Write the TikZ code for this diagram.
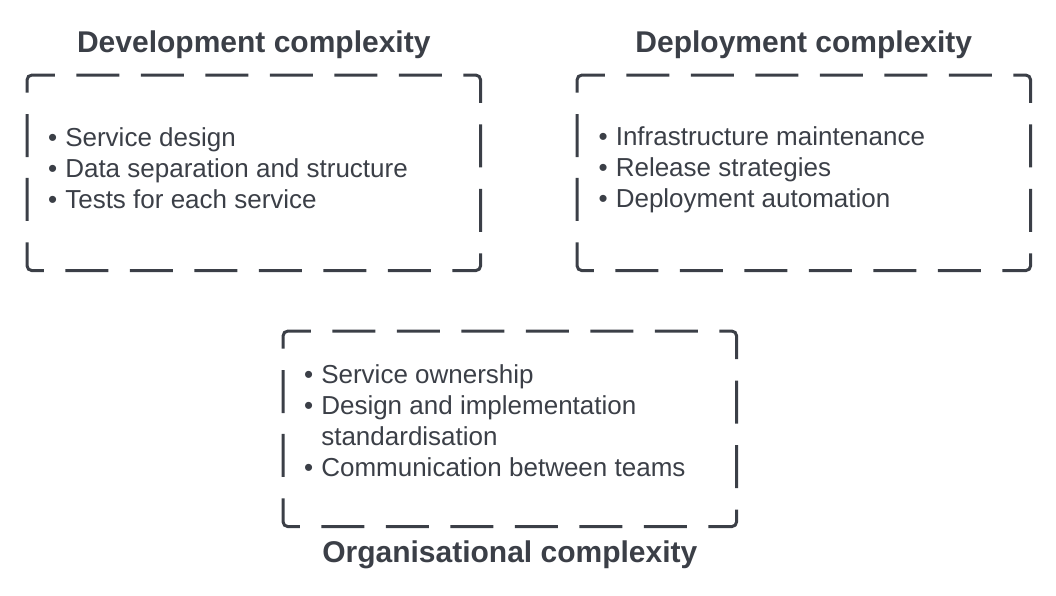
\documentclass[tikz,border=0pt]{standalone}
\usepackage{fontspec}
\setmainfont{Liberation Sans}
\usepackage{xcolor}
\definecolor{slate}{HTML}{3B3F47}

\begin{document}
\begin{tikzpicture}[x=1pt,y=-1pt,
  dashbox/.style={draw=slate,line width=3pt,rounded corners=5pt,
    dash pattern=on 43pt off 21.5pt,dash phase=53.75pt},
  heading/.style={anchor=base,inner sep=0pt,text=slate,font=\fontsize{30}{36}\selectfont\bfseries},
  itemlist/.style={anchor=base west,inner sep=0pt,text=slate,font=\fontsize{26}{31}\selectfont}]
\useasboundingbox (0,0) rectangle (1056,595);
\draw[dashbox] (27,172.8) -- (27,75) -- (480.65,75) -- (480.65,270.65) -- (27,270.65) -- cycle;
\draw[dashbox] (577,172.8) -- (577,75) -- (1030.65,75) -- (1030.65,270.65) -- (577,270.65) -- cycle;
\draw[dashbox] (283,428.8) -- (283,331) -- (736.65,331) -- (736.65,526.65) -- (283,526.65) -- cycle;
\node[heading] (devtitle) at (253.8,52) {Development complexity};
\node[heading] (deptitle) at (803.8,52) {Deployment complexity};
\node[heading] (orgtitle) at (509.8,562) {Organisational complexity};
\node[itemlist] (devlist) at (48,146) {\begin{tabular}[t]{@{}l@{\hspace{8pt}}l@{}}
  • & Service design\\
  • & Data separation and structure\\
  • & Tests for each service
\end{tabular}};
\node[itemlist] (deplist) at (598.5,145) {\begin{tabular}[t]{@{}l@{\hspace{8pt}}l@{}}
  • & Infrastructure maintenance\\
  • & Release strategies\\
  • & Deployment automation
\end{tabular}};
\node[itemlist] (orglist) at (304,383) {\begin{tabular}[t]{@{}l@{\hspace{8pt}}l@{}}
  • & Service ownership\\
  • & Design and implementation\\
    & standardisation\\
  • & Communication between teams
\end{tabular}};
\end{tikzpicture}
\end{document}
